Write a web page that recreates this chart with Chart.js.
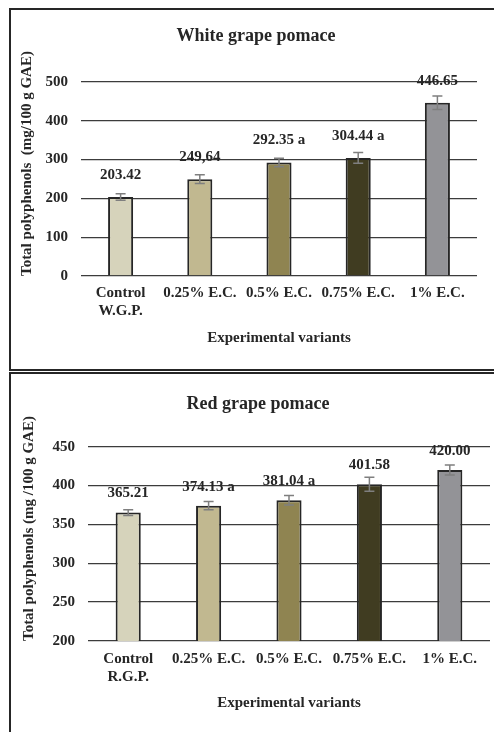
<!DOCTYPE html>
<html lang="en">
<head>
  <meta charset="UTF-8">
  <title>Total polyphenols - grape pomace</title>
  <script src="https://cdn.jsdelivr.net/npm/chart.js"></script>
  <style>
    body {
      margin: 0;
      width: 494px;
      height: 732px;
      overflow: hidden;
      position: relative;
      background: #fff;
      font-family: "Liberation Serif", serif;
    }
    .frame {
      position: absolute;
      left: 9px;
      width: 520px;
      border: 2px solid #262626;
    }
    #frame1 { top: 8px; height: 359px; }
    #frame2 { top: 372px; height: 400px; }
    canvas {
      position: absolute;
      left: 0;
    }
    #whiteChart { top: 0; }
    #redChart { top: 366px; }
  </style>
</head>
<body>

  <div class="frame" id="frame1"></div>
  <div class="frame" id="frame2"></div>
  <canvas id="whiteChart" width="494" height="366"></canvas>
  <canvas id="redChart" width="494" height="366"></canvas>

  <script>
    // categories
    const whiteCategories = [['Control', 'W.G.P.'], '0.25% E.C.', '0.5% E.C.', '0.75% E.C.', '1% E.C.'];
    const redCategories = [['Control', 'R.G.P.'], '0.25% E.C.', '0.5% E.C.', '0.75% E.C.', '1% E.C.'];

    // mean values and error bars (mg/100 g GAE)
    const whiteValues = [203.42, 249.64, 292.35, 304.44, 446.65];
    const whiteErrors = [8.5, 11, 11, 14, 17.5];
    const whiteLabels = ['203.42', '249,64', '292.35 a', '304.44 a', '446.65'];

    const redValues = [365.21, 374.13, 381.04, 401.58, 420.00];
    const redErrors = [3.7, 5.4, 6.2, 9, 6.4];
    const redLabels = ['365.21', '374.13 a', '381.04 a', '401.58', '420.00'];

    const barColors = ['#d6d3bb', '#c1b890', '#8f8451', '#403c21', '#939397'];
    const textColor = '#262626';
    const fontFamily = '"Liberation Serif", "Times New Roman", serif';

    // error bars + value labels on top of each bar
    const barExtras = {
      id: 'barExtras',
      afterDatasetsDraw(chart, args, opts) {
        const ctx = chart.ctx;
        const yScale = chart.scales.y;
        const values = chart.data.datasets[0].data;
        const meta = chart.getDatasetMeta(0);
        ctx.save();
        meta.data.forEach((bar, i) => {
          const hi = yScale.getPixelForValue(values[i] + opts.errors[i]);
          const lo = yScale.getPixelForValue(values[i] - opts.errors[i]);
          ctx.strokeStyle = '#7f7f7f';
          ctx.lineWidth = 1.5;
          ctx.beginPath();
          ctx.moveTo(bar.x, hi); ctx.lineTo(bar.x, lo);
          ctx.moveTo(bar.x - 5, hi); ctx.lineTo(bar.x + 5, hi);
          ctx.moveTo(bar.x - 5, lo); ctx.lineTo(bar.x + 5, lo);
          ctx.stroke();

          ctx.fillStyle = textColor;
          ctx.font = 'bold 15px ' + fontFamily;
          ctx.textAlign = 'center';
          ctx.textBaseline = 'middle';
          ctx.fillText(opts.labels[i], bar.x, bar.y - opts.lift);
        });
        ctx.restore();
      }
    };

    function makeChart(id, cfg) {
      const ctx = document.getElementById(id).getContext('2d');
      return new Chart(ctx, {
        type: 'bar',
        data: {
          labels: cfg.categories,
          datasets: [{
            data: cfg.values,
            backgroundColor: barColors,
            borderColor: '#262626',
            borderWidth: 2,
            barPercentage: 1,
            categoryPercentage: cfg.barFrac
          }]
        },
        plugins: [barExtras],
        options: {
          responsive: false,
          animation: false,
          layout: { padding: cfg.padding },
          plugins: {
            legend: { display: false },
            tooltip: { enabled: false },
            title: {
              display: true,
              text: cfg.title,
              color: textColor,
              font: { family: fontFamily, size: 18, weight: 'bold' },
              padding: cfg.titlePad
            },
            barExtras: { errors: cfg.errors, labels: cfg.labels, lift: cfg.lift }
          },
          scales: {
            x: {
              grid: { display: false, drawTicks: false },
              border: { display: false },
              ticks: {
                color: textColor,
                font: { family: fontFamily, size: 15, weight: 'bold' },
                padding: cfg.xTickPad,
                maxRotation: 0,
                autoSkip: false
              },
              title: {
                display: true,
                text: 'Experimental variants',
                color: textColor,
                font: { family: fontFamily, size: 15, weight: 'bold' },
                padding: { top: 0, bottom: cfg.xTitlePad }
              },
              afterFit: (scale) => { scale.height = cfg.xHeight; }
            },
            y: {
              min: cfg.min,
              max: cfg.max,
              grid: { color: '#3c3c3c', lineWidth: 1.3, drawTicks: false },
              border: { display: false },
              ticks: {
                stepSize: cfg.step,
                color: textColor,
                font: { family: fontFamily, size: 15, weight: 'bold' },
                padding: 13
              },
              title: {
                display: true,
                text: cfg.yTitle,
                align: 'start',
                color: textColor,
                font: { family: fontFamily, size: 15, weight: 'bold' },
                padding: { top: cfg.yTitlePad, bottom: 0 }
              },
              afterFit: (scale) => { scale.width = cfg.yWidth; }
            }
          }
        }
      });
    }

    makeChart('whiteChart', {
      categories: whiteCategories,
      values: whiteValues,
      errors: whiteErrors,
      labels: whiteLabels,
      title: 'White grape pomace',
      yTitle: 'Total polyphenols  (mg/100 g GAE)',
      min: 0, max: 500, step: 100,
      barFrac: 25 / 79,
      padding: { left: 35, right: 17, top: 8, bottom: 10 },
      titlePad: { top: 17.2, bottom: 35.2 },
      yWidth: 46, yTitlePad: -17,
      xHeight: 80, xTickPad: 8, xTitlePad: 9,
      lift: 22
    });

    makeChart('redChart', {
      categories: redCategories,
      values: redValues,
      errors: redErrors,
      labels: redLabels,
      title: 'Red grape pomace',
      yTitle: 'Total polyphenols (mg /100 g GAE)',
      min: 200, max: 450, step: 50,
      barFrac: 25 / 80,
      padding: { left: 26, right: 4, top: 8, bottom: 10 },
      titlePad: { top: 19.2, bottom: 31.9 },
      yWidth: 62, yTitlePad: -6,
      xHeight: 81, xTickPad: 9.3, xTitlePad: 9.7,
      lift: 19
    });
  </script>
</body>
</html>
